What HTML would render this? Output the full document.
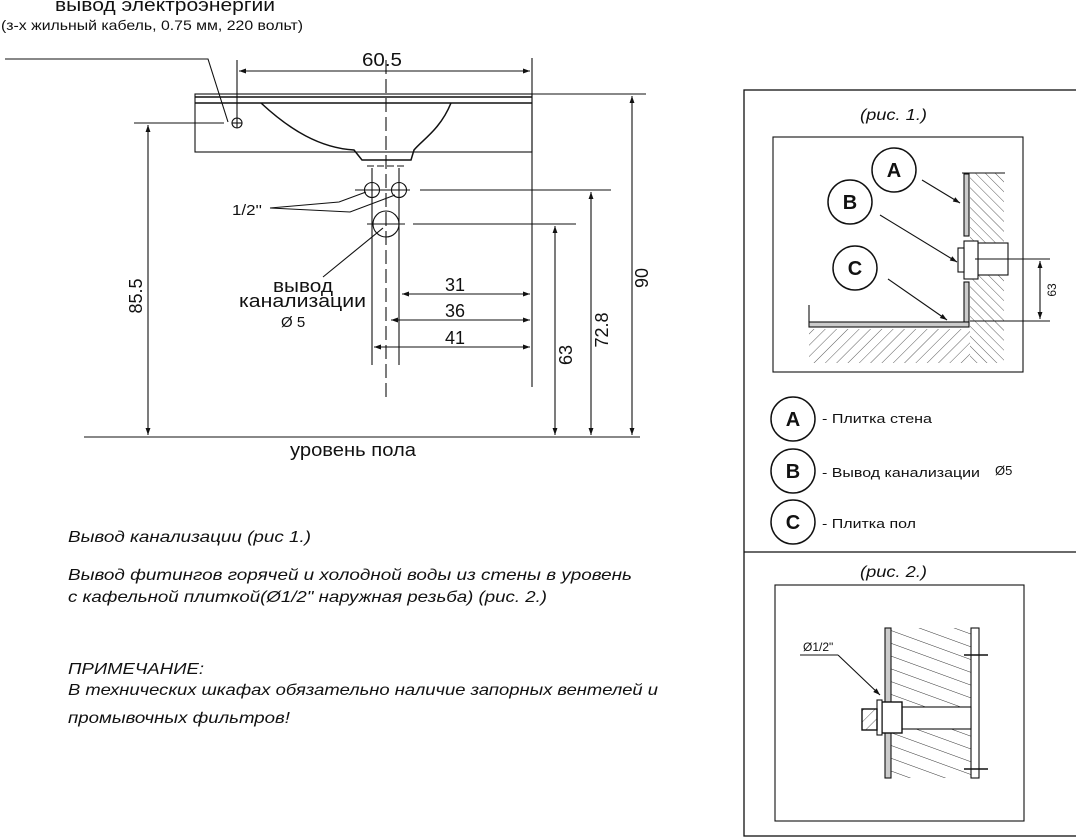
<!DOCTYPE html>
<html><head><meta charset="utf-8"><style>
html,body{margin:0;padding:0;background:#fff;}
svg{display:block;font-family:"Liberation Sans","DejaVu Sans",sans-serif;}
</style></head><body>
<svg width="1076" height="837" viewBox="0 0 1076 837" xmlns="http://www.w3.org/2000/svg">
<defs>
<marker id="ar" viewBox="0 0 10 10" refX="10" refY="5" markerWidth="10" markerHeight="7" orient="auto-start-reverse" markerUnits="userSpaceOnUse"><path d="M0,1.5 L10,5 L0,8.5 z" fill="#111"/></marker>
<pattern id="h1" width="7" height="7" patternUnits="userSpaceOnUse" patternTransform="rotate(-45)"><line x1="0" y1="0" x2="0" y2="7" stroke="#333" stroke-width="0.8"/></pattern>
<pattern id="h2" width="8" height="8" patternUnits="userSpaceOnUse" patternTransform="rotate(45)"><line x1="0" y1="0" x2="0" y2="8" stroke="#333" stroke-width="0.8"/></pattern>
<pattern id="h3" width="12" height="12" patternUnits="userSpaceOnUse" patternTransform="rotate(-70)"><line x1="0" y1="0" x2="0" y2="12" stroke="#333" stroke-width="1"/></pattern>
</defs>
<g stroke="#111" stroke-width="1.1" fill="none">
<polyline points="5,59 208,59 228,122"/>
<circle cx="237" cy="123" r="5"/>
<line x1="232" y1="123" x2="242" y2="123"/><line x1="237" y1="118" x2="237" y2="128"/>
<line x1="134" y1="123" x2="224" y2="123"/>
<line x1="237" y1="60" x2="237" y2="118"/>
<line x1="532" y1="58" x2="532" y2="387"/>
<line x1="239" y1="71" x2="530" y2="71" marker-start="url(#ar)" marker-end="url(#ar)"/>
<rect x="195" y="94" width="337" height="58"/>
<line x1="195" y1="97" x2="532" y2="97" stroke-width="1.6"/>
<line x1="195" y1="103" x2="532" y2="103" stroke-width="1.6"/>
<line x1="532" y1="94" x2="646" y2="94"/>
<path d="M261,103 C290,130 320,148 354,150 L362,160 L411,160 L414,150 C422,140 440,130 451,103" stroke-width="1.5"/>
<line x1="367" y1="166" x2="404" y2="166" stroke-dasharray="7,3"/>
<line x1="386" y1="60" x2="386" y2="400" stroke-dasharray="14,5"/>
<line x1="372" y1="168" x2="372" y2="365"/>
<line x1="399" y1="168" x2="399" y2="365"/>
<circle cx="372" cy="190" r="7.5"/><circle cx="399" cy="190" r="7.5"/>
<line x1="355" y1="190" x2="410" y2="190"/>
<line x1="420" y1="190" x2="611" y2="190"/>
<polyline points="270,208 339,202 366,192"/>
<polyline points="270,208 350,212 395,195"/>
<circle cx="386" cy="224" r="13"/>
<line x1="367" y1="224" x2="405" y2="224"/>
<line x1="413" y1="224" x2="576" y2="224"/>
<line x1="383" y1="228" x2="323" y2="277"/>
<line x1="402" y1="294" x2="530" y2="294" marker-start="url(#ar)" marker-end="url(#ar)"/>
<line x1="391" y1="320" x2="530" y2="320" marker-start="url(#ar)" marker-end="url(#ar)"/>
<line x1="374" y1="347" x2="530" y2="347" marker-start="url(#ar)" marker-end="url(#ar)"/>
<line x1="555" y1="226" x2="555" y2="435" marker-start="url(#ar)" marker-end="url(#ar)"/>
<line x1="591" y1="192" x2="591" y2="435" marker-start="url(#ar)" marker-end="url(#ar)"/>
<line x1="632" y1="96" x2="632" y2="435" marker-start="url(#ar)" marker-end="url(#ar)"/>
<line x1="148" y1="125" x2="148" y2="435" marker-start="url(#ar)" marker-end="url(#ar)"/>
<line x1="84" y1="437" x2="640" y2="437"/>

<rect x="744" y="90" width="340" height="746" stroke-width="1.3"/>
<line x1="744" y1="552" x2="1076" y2="552" stroke-width="1.3"/>
<rect x="773" y="137" width="250" height="235"/>
<rect x="970" y="173" width="34" height="190" fill="url(#h1)" stroke="none"/>
<rect x="809" y="329" width="161" height="34" fill="url(#h2)" stroke="none"/>
<line x1="962" y1="173" x2="1005" y2="173"/>
<rect x="964" y="174" width="5" height="62" fill="#ccc"/>
<rect x="964" y="282" width="5" height="40" fill="#ccc"/>
<rect x="809" y="322" width="160" height="5" fill="#ccc"/>
<line x1="809" y1="305" x2="809" y2="322"/>
<rect x="978" y="243" width="30" height="32" fill="#fff"/>
<rect x="964" y="241" width="14" height="38" fill="#fff"/>
<rect x="958" y="248" width="6" height="24" fill="#fff"/>
<line x1="975" y1="259" x2="1050" y2="259"/>
<line x1="970" y1="321" x2="1050" y2="321"/>
<line x1="1040" y1="261" x2="1040" y2="319" marker-start="url(#ar)" marker-end="url(#ar)"/>
<circle cx="894" cy="170" r="22" stroke-width="1.5"/>
<circle cx="850" cy="202" r="22" stroke-width="1.5"/>
<circle cx="855" cy="268" r="22" stroke-width="1.5"/>
<line x1="922" y1="180" x2="960" y2="203" marker-end="url(#ar)"/>
<line x1="880" y1="215" x2="957" y2="262" marker-end="url(#ar)"/>
<line x1="888" y1="279" x2="947" y2="320" marker-end="url(#ar)"/>
<circle cx="793" cy="419" r="22" stroke-width="1.5"/>
<circle cx="793" cy="471" r="22" stroke-width="1.5"/>
<circle cx="793" cy="522" r="22" stroke-width="1.5"/>

<rect x="775" y="585" width="249" height="236"/>
<rect x="891" y="628" width="80" height="150" fill="url(#h3)" stroke="none"/>
<rect x="885" y="628" width="6" height="150" fill="#ccc"/>
<rect x="971" y="628" width="8" height="150" fill="#fff"/>
<line x1="964" y1="655" x2="988" y2="655" stroke-width="1.6"/>
<line x1="964" y1="769" x2="988" y2="769" stroke-width="1.6"/>
<rect x="902" y="707" width="69" height="22" fill="#fff"/>
<rect x="882" y="702" width="20" height="31" fill="#fff" stroke-width="1.4"/>
<rect x="877" y="700" width="5" height="35" fill="#fff"/>
<rect x="862" y="709" width="15" height="21" fill="url(#h2)" stroke-width="1.4"/>
<line x1="800" y1="655" x2="838" y2="655"/>
<line x1="838" y1="655" x2="880" y2="695" marker-end="url(#ar)"/>
</g>

<g fill="#111">
<text x="55" y="11" font-size="18" textLength="220" lengthAdjust="spacingAndGlyphs">вывод электроэнергии</text>
<text x="1" y="30" font-size="14" textLength="302" lengthAdjust="spacingAndGlyphs">(з-х жильный кабель, 0.75 мм, 220 вольт)</text>
<text x="362" y="66" font-size="18" textLength="40" lengthAdjust="spacingAndGlyphs">60.5</text>
<text x="232" y="215" font-size="15" textLength="30" lengthAdjust="spacingAndGlyphs">1/2''</text>
<text x="273" y="292" font-size="18" textLength="60" lengthAdjust="spacingAndGlyphs">вывод</text>
<text x="239" y="307" font-size="18" textLength="127" lengthAdjust="spacingAndGlyphs">канализации</text>
<text x="281" y="327" font-size="15">Ø 5</text>
<text x="455" y="291" text-anchor="middle" font-size="18">31</text>
<text x="455" y="317" text-anchor="middle" font-size="18">36</text>
<text x="455" y="344" text-anchor="middle" font-size="18">41</text>
<text transform="translate(572,355) rotate(-90)" text-anchor="middle" font-size="18">63</text>
<text transform="translate(608,330) rotate(-90)" text-anchor="middle" font-size="18">72.8</text>
<text transform="translate(648,278) rotate(-90)" text-anchor="middle" font-size="18">90</text>
<text transform="translate(142,296) rotate(-90)" text-anchor="middle" font-size="18">85.5</text>
<text x="290" y="456" font-size="18" textLength="126" lengthAdjust="spacingAndGlyphs">уровень пола</text>
<g font-style="italic" font-size="16">
<text x="68" y="542" textLength="243" lengthAdjust="spacingAndGlyphs">Вывод канализации (рис 1.)</text>
<text x="68" y="580" textLength="564" lengthAdjust="spacingAndGlyphs">Вывод фитингов горячей и холодной воды из стены в уровень</text>
<text x="68" y="602" textLength="479" lengthAdjust="spacingAndGlyphs">с кафельной плиткой(Ø1/2" наружная резьба) (рис. 2.)</text>
<text x="68" y="674" textLength="136" lengthAdjust="spacingAndGlyphs">ПРИМЕЧАНИЕ:</text>
<text x="68" y="695" textLength="590" lengthAdjust="spacingAndGlyphs">В технических шкафах обязательно наличие запорных вентелей и</text>
<text x="68" y="723" textLength="222" lengthAdjust="spacingAndGlyphs">промывочных фильтров!</text>
<text x="860" y="120" textLength="67" lengthAdjust="spacingAndGlyphs">(рис. 1.)</text>
<text x="860" y="577" textLength="67" lengthAdjust="spacingAndGlyphs">(рис. 2.)</text>
</g>
<g font-weight="bold" font-size="20" text-anchor="middle">
<text x="894" y="177">A</text><text x="850" y="209">B</text><text x="855" y="275">C</text>
<text x="793" y="426">A</text><text x="793" y="478">B</text><text x="793" y="529">C</text>
</g>
<g font-size="13">
<text x="822" y="423" textLength="110" lengthAdjust="spacingAndGlyphs">- Плитка стена</text>
<text x="822" y="477" textLength="158" lengthAdjust="spacingAndGlyphs">- Вывод канализации</text>
<text x="995" y="475">Ø5</text>
<text x="822" y="528" textLength="94" lengthAdjust="spacingAndGlyphs">- Плитка пол</text>
<text x="803" y="651" font-size="12">Ø1/2"</text>
</g>
<text transform="translate(1056,290) rotate(-90)" text-anchor="middle" font-size="12">63</text>
</g>
</svg>
</body></html>
